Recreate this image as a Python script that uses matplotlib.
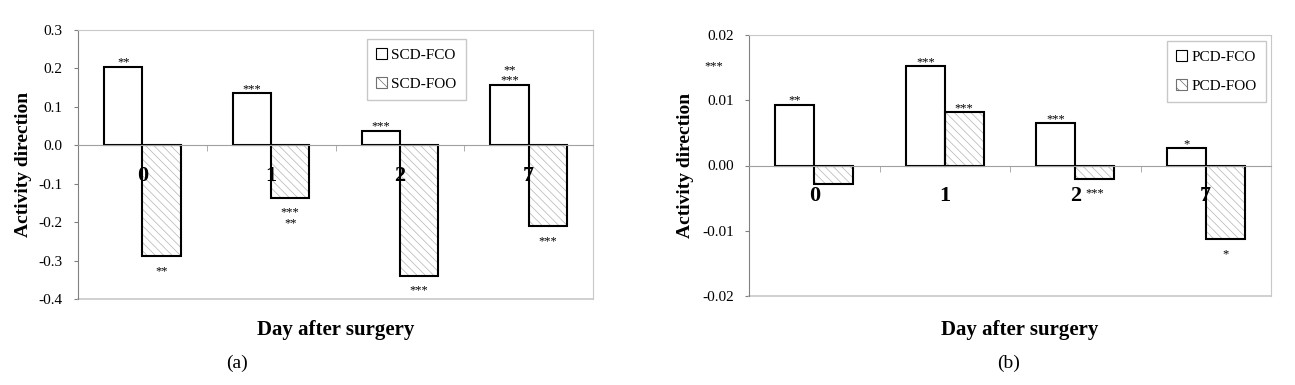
import matplotlib
matplotlib.use('Agg')
import matplotlib.pyplot as plt
import numpy as np
from matplotlib.patches import Patch
from matplotlib.ticker import FormatStrFormatter

plt.rcParams['font.family'] = ['Liberation Serif', 'DejaVu Serif']
plt.rcParams['axes.unicode_minus'] = False
plt.rcParams['hatch.linewidth'] = 0.5

# data
days = ['0', '1', '2', '7']
scd_fco = [0.205, 0.135, 0.038, 0.158]
scd_foo = [-0.288, -0.136, -0.339, -0.210]
pcd_fco = [0.0093, 0.0152, 0.0065, 0.0027]
pcd_foo = [-0.0028, 0.0082, -0.0020, -0.0113]
scd_fco_sig = ['**', '***', '***', '**\n***']
scd_foo_sig = ['**', '***\n**', '***', '***']
pcd_fco_sig = ['**', '***', '***', '*']
pcd_foo_sig = ['', '***', '***', '*']

W, H = 1295, 385
fig = plt.figure(figsize=(W / 100, H / 100), dpi=100)
fig.patch.set_facecolor('white')

HATCH = '\\\\\\\\'
w = 0.297
light = '#c8c8c8'


def stars(ax, x, v, sig):
    if not sig:
        return
    lines = sig.split('\n')
    if v >= 0:
        for k, s in enumerate(reversed(lines)):
            ax.annotate(s, (x, v), xytext=(0, 1 + k * 10), textcoords='offset pixels',
                        ha='center', va='baseline', fontsize=9)
    else:
        for k, s in enumerate(lines):
            ax.annotate(s, (x, v), xytext=(0, -18 - k * 11), textcoords='offset pixels',
                        ha='center', va='baseline', fontsize=9)


def panel(rect, s1, s2, sig1, sig2, names, ylim, step, fmt, leg_xy):
    ax = fig.add_axes(rect)
    x = np.arange(len(days))
    # white bars
    ax.bar(x - w / 2, s1, w, facecolor='white', edgecolor='black', linewidth=1.5, zorder=1.2)
    # hatched bars: hatch in grey, outline in black on top
    ax.bar(x + w / 2, s2, w, facecolor='white', edgecolor='#b4b4b4', hatch=HATCH,
           linewidth=0, zorder=1)
    ax.bar(x + w / 2, s2, w, fill=False, edgecolor='black', linewidth=1.5, zorder=1.2)
    for i in range(len(days)):
        stars(ax, x[i] - w / 2, s1[i], sig1[i])
        stars(ax, x[i] + w / 2, s2[i], sig2[i])

    ax.set_xlim(-0.5, len(days) - 0.5)
    ax.set_ylim(*ylim)
    ax.set_yticks(np.round(np.arange(ylim[0], ylim[1] + step / 2, step), 4) + 0.0)
    ax.yaxis.set_major_formatter(FormatStrFormatter(fmt))
    ax.tick_params(axis='y', labelsize=11, length=3, color='#808080', pad=8)

    ax.spines['bottom'].set_position(('data', 0))
    ax.spines['bottom'].set_color('#a0a0a0')
    ax.spines['left'].set_color('#808080')
    ax.spines['top'].set_color(light)
    ax.spines['right'].set_color(light)
    ax.axhline(ylim[0], color=light, lw=1.2, clip_on=False)

    ax.set_xticks(x)
    ax.set_xticklabels(days, fontsize=16, fontweight='bold')
    ax.tick_params(axis='x', which='major', length=0, pad=15)
    ax.set_xticks(np.arange(-0.5, len(days)), minor=True)
    ax.tick_params(axis='x', which='minor', length=4, color='#a0a0a0', direction='out')

    handles = [Patch(facecolor='white', edgecolor='black', linewidth=0.8),
               Patch(facecolor='white', edgecolor='#707070', hatch='\\\\\\', linewidth=0.8)]
    leg = ax.legend(handles, names, loc='upper left', bbox_to_anchor=leg_xy,
                    fontsize=11, fancybox=False, edgecolor=light, framealpha=1,
                    handlelength=0.7, handleheight=0.7, handletextpad=0.3,
                    labelspacing=1.0, borderpad=0.6, borderaxespad=0)
    leg.get_frame().set_linewidth(1.0)
    return ax


ax1 = panel([78 / W, 1 - 299 / H, 515 / W, 269 / H], scd_fco, scd_foo,
            scd_fco_sig, scd_foo_sig, ['SCD-FCO', 'SCD-FOO'],
            (-0.4, 0.3), 0.1, '%.1f', (0.561, 0.966))
ax2 = panel([749 / W, 1 - 296 / H, 522 / W, 261 / H], pcd_fco, pcd_foo,
            pcd_fco_sig, pcd_foo_sig, ['PCD-FCO', 'PCD-FOO'],
            (-0.02, 0.02), 0.01, '%.2f', (0.801, 0.977))

# stray stars left of the second axis
fig.text(714 / W, 1 - 66 / H, '***', ha='center', va='center', fontsize=9)

for xc, yc in [(24, 164), (686, 165)]:
    fig.text(xc / W, 1 - yc / H, 'Activity direction', rotation=90, ha='center',
             va='center', fontsize=14, fontweight='bold')
for xc in [336, 1020]:
    fig.text(xc / W, 1 - 330 / H, 'Day after surgery', ha='center', va='center',
             fontsize=15, fontweight='bold')
fig.text(237 / W, 1 - 363 / H, '(a)', ha='center', va='center', fontsize=14)
fig.text(1009 / W, 1 - 363 / H, '(b)', ha='center', va='center', fontsize=14)

fig.savefig('out.png', dpi=100, facecolor='white')
